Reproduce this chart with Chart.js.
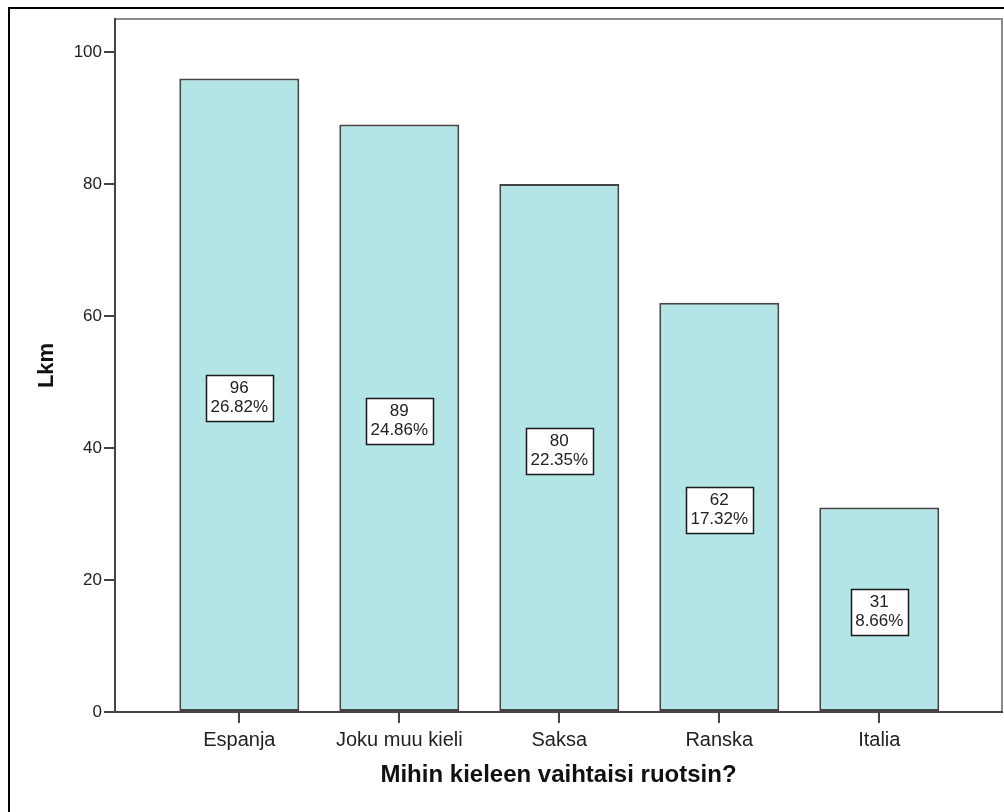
<!DOCTYPE html>
<html>
<head>
<meta charset="utf-8">
<title>Mihin kieleen vaihtaisi ruotsin?</title>
<script src="https://cdn.jsdelivr.net/npm/chart.js@4/dist/chart.umd.min.js"></script>
<style>
  html, body { margin: 0; padding: 0; background: #ffffff; }
  #wrap { position: relative; width: 1004px; height: 812px; overflow: hidden; }
  canvas { display: block; }
</style>
</head>
<body>
<div id="wrap"><canvas id="chart" width="1004" height="812"></canvas></div>
<script>
// Survey answers: counts per language
const categories = ['Espanja', 'Joku muu kieli', 'Saksa', 'Ranska', 'Italia'];
const counts = [96, 89, 80, 62, 31];
const yTicks = [0, 20, 40, 60, 80, 100];
const xTitle = 'Mihin kieleen vaihtaisi ruotsin?';
const yTitle = 'Lkm';

const total = counts.reduce((a, b) => a + b, 0);
const percents = counts.map(c => (c / total) * 100);

const AXIS = '#444444';
const TEXT = '#222222';
const BAR_FILL = '#b4e5e6';
const BAR_EDGE = '#444444';

// Outer frame and the light top/right edges of the plot box
const framePlugin = {
  id: 'frame',
  beforeDraw(chart) {
    const { ctx, width, height, chartArea: a } = chart;
    ctx.save();
    ctx.fillStyle = '#ffffff';
    ctx.fillRect(0, 0, width, height);
    ctx.fillStyle = '#000000';
    ctx.fillRect(8, 7, width, 2);
    ctx.fillRect(8, 7, 2, height);
    ctx.fillStyle = '#8c8c8c';
    ctx.fillRect(a.left, a.top - 1, a.right - a.left, 2);
    ctx.fillRect(a.right - 1, a.top - 1, 2, a.bottom - a.top + 1);
    ctx.restore();
  }
};

// Count and share boxes in the middle of each bar
const valueBoxes = {
  id: 'valueBoxes',
  afterDatasetsDraw(chart) {
    const { ctx } = chart;
    const meta = chart.getDatasetMeta(0);
    ctx.save();
    ctx.font = '17px "Liberation Sans", Arial, sans-serif';
    ctx.textAlign = 'center';
    ctx.textBaseline = 'middle';
    meta.data.forEach((bar, i) => {
      const lines = [String(counts[i]), percents[i].toFixed(2) + '%'];
      const w = Math.max(...lines.map(t => ctx.measureText(t).width)) + 9;
      const h = 46;
      const cx = bar.x;
      const cy = (bar.y + bar.base) / 2 + 3;
      const left = Math.round(cx - w / 2) + 0.5;
      const top = Math.round(cy - h / 2) + 0.5;
      ctx.fillStyle = '#ffffff';
      ctx.fillRect(left, top, Math.round(w), h);
      ctx.strokeStyle = '#1a1a1a';
      ctx.lineWidth = 1.5;
      ctx.strokeRect(left, top, Math.round(w), h);
      ctx.fillStyle = TEXT;
      ctx.fillText(lines[0], cx, cy - 9.5);
      ctx.fillText(lines[1], cx, cy + 9.5);
    });
    ctx.restore();
  }
};

new Chart(document.getElementById('chart'), {
  type: 'bar',
  data: {
    datasets: [{
      data: counts.map((v, i) => ({ x: i, y: v })),
      backgroundColor: BAR_FILL,
      borderColor: BAR_EDGE,
      borderWidth: 2,
      borderSkipped: false,
      barPercentage: 0.75,
      categoryPercentage: 1.0
    }]
  },
  options: {
    responsive: false,
    devicePixelRatio: 1,
    animation: false,
    layout: { padding: { top: 19, right: 2, left: 0, bottom: 0 } },
    plugins: {
      legend: { display: false },
      tooltip: { enabled: false }
    },
    scales: {
      x: {
        type: 'linear',
        offset: false,
        min: -0.777,
        max: 4.767,
        afterBuildTicks(axis) { axis.ticks = categories.map((_, i) => ({ value: i })); },
        afterFit(axis) { axis.height = 100; },
        ticks: {
          autoSkip: false,
          maxRotation: 0,
          padding: 5,
          color: TEXT,
          font: { family: '"Liberation Sans", Arial, sans-serif', size: 20 },
          callback: (v) => categories[v] ?? ''
        },
        grid: { offset: false, drawOnChartArea: false, drawTicks: true, tickLength: 11, color: AXIS, lineWidth: 2 },
        border: { display: true, color: AXIS, width: 2 },
        title: {
          display: true,
          text: xTitle,
          color: '#111111',
          font: { family: '"Liberation Sans", Arial, sans-serif', size: 24, weight: 'bold' },
          padding: { top: 0, bottom: 22 }
        }
      },
      y: {
        min: 0,
        max: 105,
        afterBuildTicks(axis) { axis.ticks = yTicks.map(v => ({ value: v })); },
        afterFit(axis) { axis.width = 115; },
        ticks: {
          padding: 2,
          color: TEXT,
          font: { family: '"Liberation Sans", Arial, sans-serif', size: 17 }
        },
        grid: { drawOnChartArea: false, drawTicks: true, tickLength: 11, color: AXIS, lineWidth: 2 },
        border: { display: true, color: AXIS, width: 2 },
        title: {
          display: true,
          text: yTitle,
          color: '#111111',
          font: { family: '"Liberation Sans", Arial, sans-serif', size: 22, weight: 'bold' },
          padding: { top: 34, bottom: 0 }
        }
      }
    }
  },
  plugins: [framePlugin, valueBoxes]
});
</script>
</body>
</html>
